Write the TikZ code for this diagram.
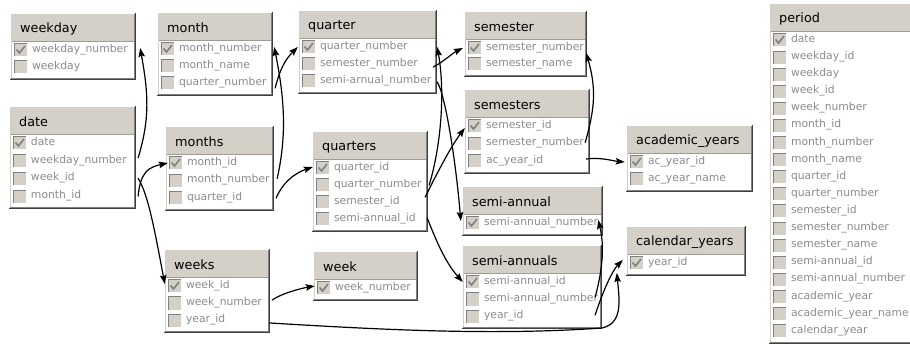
\documentclass[tikz,border=0pt]{standalone}
\usepackage{fontspec}
\setmainfont{DejaVu Sans}
\usetikzlibrary{arrows.meta,calc}
\definecolor{framegray}{HTML}{D4D0C8}
\definecolor{shadegray}{HTML}{808080}
\definecolor{darkedge}{HTML}{404040}
\definecolor{fieldgray}{HTML}{8C8C8C}
\tikzset{
  titletext/.style={font=\fontsize{12.8}{14}\selectfont, text=black, inner sep=0pt, anchor=west},
  fieldrow/.style={font=\fontsize{10.8}{12}\selectfont, text=fieldgray, inner sep=0pt,
    text height=8pt, text depth=3pt},
  conn/.style={line width=1.2pt, line cap=round, -{Stealth[length=9pt,width=6.5pt,inset=1.5pt]}},
}
% #1 id, #2 left, #3 right, #4 first-row y, #5 row pitch, #6 row count, #7 title, #8 fields
\newcommand\dbtable[8]{%
  \pgfmathsetmacro\tTop{#4-37}%
  \pgfmathsetmacro\tHb{#4-9}%
  \pgfmathsetmacro\tBot{#4+(#6-1)*#5+13}%
  \pgfmathsetmacro\tW{#3-#2}%
  \pgfmathsetmacro\tMid{(#2+#3)/2}%
  \fill[framegray] (#2,\tTop) rectangle (#3,\tBot);
  \fill[white] (#2+2,\tHb) rectangle (#3-2,\tBot-2);
  \draw[white, line width=1pt] (#2+0.5,\tBot-1) -- (#2+0.5,\tTop+0.5) -- (#3-1,\tTop+0.5);
  \draw[shadegray, line width=1pt] (#2+1,\tBot-1.5) -- (#3-1.5,\tBot-1.5) -- (#3-1.5,\tTop+1);
  \draw[darkedge, line width=1pt] (#2,\tBot-0.5) -- (#3-0.5,\tBot-0.5) -- (#3-0.5,\tTop);
  \draw[framegray!75!black, line width=0.6pt] (#2+2,\tHb) -- (#3-2,\tHb);
  \node[titletext] (#1) at (#2+10,#4-21) {#7};
  \foreach \f [count=\i] in {#8} {
    \pgfmathsetmacro\ry{#4+(\i-1)*#5}
    \fill[framegray] (#2+4,\ry-6.5) rectangle (#2+17,\ry+6.5);
    \draw[shadegray, line width=1pt] (#2+4.5,\ry+6.5) -- (#2+4.5,\ry-6) -- (#2+17,\ry-6);
    \ifnum\i=1
      \draw[shadegray, line width=1.6pt] (#2+6.5,\ry-0.5) -- (#2+9.5,\ry+3) -- (#2+15,\ry-4);
    \fi
    \node[fieldrow, minimum width=\tW pt] (#1-\i) at (\tMid,\ry)
      {\makebox[\tW pt][l]{\hspace*{22pt}\f}};
  }
}
\begin{document}
\begin{tikzpicture}[x=1pt,y=-1pt]
\useasboundingbox (0,0) rectangle (910,347);
\clip (0,0) rectangle (910,347);
\fill[white] (0,0) rectangle (910,347);

% tables
\dbtable{weekday}{10}{136}{50}{17}{2}{weekday}{weekday\_number,weekday}
\dbtable{month}{157}{273}{49}{17}{3}{month}{month\_number,month\_name,quarter\_number}
\dbtable{quarter}{298}{437}{47}{17}{3}{quarter}{quarter\_number,semester\_number,semi-arnual\_number}
\dbtable{semester}{464}{587}{48}{16}{2}{semester}{semester\_number,semester\_name}
\dbtable{semesters}{464}{590}{126}{17.5}{3}{semesters}{semester\_id,semester\_number,ac\_year\_id}
\dbtable{date}{9}{136}{143}{17.7}{4}{date}{date,weekday\_number,week\_id,month\_id}
\dbtable{months}{165}{274}{163}{17.5}{3}{months}{month\_id,month\_number,quarter\_id}
\dbtable{quarters}{312}{428}{168}{17}{4}{quarters}{quarter\_id,quarter\_number,semester\_id,semi-annual\_id}
\dbtable{semiannual}{462}{603}{223}{17}{1}{semi-annual}{semi-annual\_number}
\dbtable{acyears}{626}{753}{162}{17}{2}{academic\_years}{ac\_year\_id,ac\_year\_name}
\dbtable{calyears}{626}{746}{263}{17}{1}{calendar\_years}{year\_id}
\dbtable{semiannuals}{462}{602}{282}{17}{3}{semi-annuals}{semi-annual\_id,semi-annual\_number,year\_id}
\dbtable{weeks}{164}{270}{286}{17}{3}{weeks}{week\_id,week\_number,year\_id}
\dbtable{week}{313}{418}{288}{17}{1}{week}{week\_number}
\dbtable{period}{769}{935}{40}{17.1}{18}{period}{date,weekday\_id,weekday,week\_id,week\_number,month\_id,month\_number,month\_name,quarter\_id,quarter\_number,semester\_id,semester\_number,semester\_name,semi-annual\_id,semi-annual\_number,academic\_year,academic\_year\_name,calendar\_year}

% relations
\draw[conn] ($(date-2.east)+(2,-3)$) .. controls +(12,-40) and +(8,45) .. ($(weekday-1.east)+(4,-2)$);
\draw[conn] ($(date-3.east)+(2,0)$) .. controls +(10,16) and +(-10,-53) .. ($(weeks-1.west)+(1,-2)$);
\draw[conn] ($(date-4.east)+(2,0)$) .. controls +(2,-25) and +(-18,4) .. ($(months-1.west)+(3,0)$);
\draw[conn] ($(months-2.east)+(3,-2)$) .. controls +(10,-45) and +(10,50) .. ($(month-1.east)+(1,-2)$);
\draw[conn] ($(months-3.east)+(2,0)$) .. controls +(6,-15) and +(-18,6) .. ($(quarters-1.west)+(1,-1)$);
\draw[conn] ($(month-3.east)+(2,5)$) .. controls +(5,-20) and +(-12,12) .. (quarter-1.west);
\draw[conn] ($(quarters-2.east)+(1,0)$) .. controls +(12,-40) and +(8,45) .. (quarter-1.east);
\draw[conn] ($(quarter-2.east)+(-4,3)$) .. controls +(10,-5) and +(-10,5) .. ($(semester-1.west)+(-1,0)$);
\draw[conn] ($(quarter-3.east)+(0,1)$) .. controls +(8,12) and +(-5,-60) .. ($(semiannual-1.west)+(-1,-2)$);
\draw[conn] ($(quarters-3.east)+(-3,-5)$) .. controls +(10,-20) and +(-15,20) .. ($(semesters-1.west)+(1,2)$);
\draw[conn] ($(quarters-4.east)+(-1,-1)$) .. controls +(8,20) and +(-18,-20) .. ($(semiannuals-1.west)+(1,0)$);
\draw[conn] ($(semesters-2.east)+(-5,-1)$) .. controls +(10,-35) and +(10,35) .. ($(semester-1.east)+(-1,5)$);
\draw[conn] ($(semesters-3.east)+(-4,-2)$) .. controls +(15,-2) and +(-12,-1) .. ($(acyears-1.west)+(-1,0)$);
\draw[conn] ($(semiannuals-2.east)+(-7,-2)$) .. controls +(8,-30) and +(6,25) .. ($(semiannual-1.east)+(-5,-3)$);
\draw[conn] ($(semiannuals-3.east)+(-7,-1)$) .. controls +(8,-25) and +(-10,10) .. ($(calyears-1.west)+(-3,-3)$);
\draw[conn] ($(weeks-3.east)+(0,3)$) .. controls +(130,8) and +(-100,7) .. ($(semiannuals-3.east)+(0,12)$)
  .. controls +(20,-5) and +(3,30) .. ($(calyears-1.west)+(-9,10)$);
\draw[conn] ($(weeks-2.east)+(2,-3)$) .. controls +(10,-7) and +(-12,2) .. ($(week-1.west)+(2,-2)$);
\end{tikzpicture}
\end{document}
